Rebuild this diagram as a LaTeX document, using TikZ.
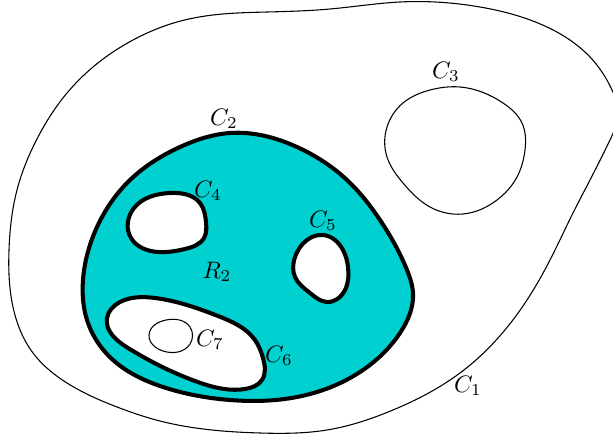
\documentclass[tikz,border=0pt]{standalone}
\usetikzlibrary{hobby}
\definecolor{regioncyan}{RGB}{0,208,208}
\tikzset{
  thincurve/.style={line width=0.45pt, black},
  boldcurve/.style={line width=1.7pt, black},
  lbl/.style={inner sep=0pt, font=\normalsize}
}
\begin{document}
\begin{tikzpicture}[x=0.42pt, y=-0.42pt, use Hobby shortcut]
\useasboundingbox (0,0) rectangle (613,440);
\clip (0,0) rectangle (613,440);
% C1 outer
\draw[thincurve, closed=true] (400,2) .. (480,7) .. (547,27) .. (590,57) .. (612,90) .. (618,115) .. (610,140) .. (590,180) .. (573,213) .. (550,260) .. (527,300) .. (460,373) .. (393,410) .. (327,430) .. (260,433) .. (160,421) .. (117,407) .. (67,383) .. (33,353) .. (13,307) .. (9,250) .. (17,190) .. (38,137) .. (67,93) .. (93,67) .. (133,40) .. (177,22) .. (213,15) .. (267,12) .. (330,9);
% C3
\draw[thincurve, closed=true] (460,87) .. (503,103) .. (522,123) .. (525,150) .. (517,177) .. (497,200) .. (463,214) .. (430,207) .. (403,183) .. (387,157) .. (387,127) .. (403,103) .. (430,90);
% C2 region
\draw[boldcurve, fill=regioncyan, closed=true] (230,133) .. (297,147) .. (347,180) .. (380,220) .. (407,270) .. (413,293) .. (400,333) .. (363,370) .. (297,397) .. (230,400) .. (163,387) .. (113,360) .. (87,320) .. (83,280) .. (97,227) .. (130,180) .. (180,147);
% C4
\draw[boldcurve, fill=white, closed=true] (170,193) .. (200,203) .. (206,222) .. (204,238) .. (185,249) .. (158,252) .. (131,238) .. (134,208);
% C5
\draw[boldcurve, fill=white, closed=true] (323,235) .. (343,250) .. (348,267) .. (345,290) .. (327,302) .. (310,293) .. (295,277) .. (295,257) .. (307,240);
% C6
\draw[boldcurve, fill=white, closed=true] (120,302) .. (155,298) .. (218,316) .. (255,340) .. (263,358) .. (262,380) .. (245,389) .. (195,381) .. (128,348) .. (107,318);
% C7
\draw[thincurve, closed=true] (166,320) .. (190,327) .. (190,344) .. (163,351) .. (149,335);
% labels
\node[lbl] (c1) at (468,386) {$C_1$};
\node[lbl] (c2) at (224,119) {$C_2$};
\node[lbl] (c3) at (446,72) {$C_3$};
\node[lbl] (c4) at (208,191) {$C_4$};
\node[lbl] (c5) at (323,221) {$C_5$};
\node[lbl] (c6) at (279,356) {$C_6$};
\node[lbl] (c7) at (210,340) {$C_7$};
\node[lbl] (r2) at (217,272) {$R_2$};
\end{tikzpicture}
\end{document}
